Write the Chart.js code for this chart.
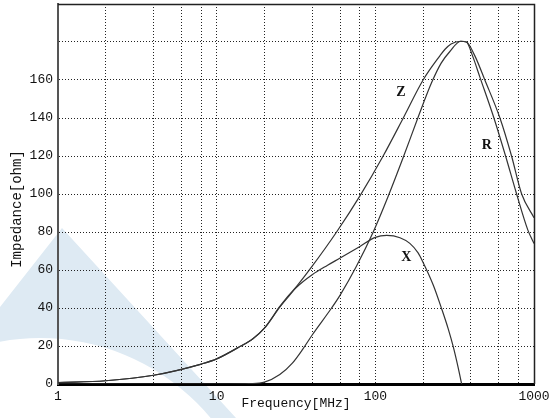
<!DOCTYPE html>
<html>
<head>
<meta charset="utf-8">
<script src="https://cdn.jsdelivr.net/npm/chart.js@4.4.0/dist/chart.umd.min.js"></script>
<style>
  html, body { margin: 0; padding: 0; background: #fff; }
</style>
</head>
<body>
<canvas id="impedanceChart" width="555" height="418"></canvas>
<script>
// Frequency in MHz, impedance in ohm
const zFreq = [1, 2, 4, 8, 10, 14, 17, 20, 25, 28, 32, 40, 57, 80, 112, 150, 200, 255, 275, 300, 345, 375, 424, 490, 610, 722, 836, 1000];
const zOhm  = [0.8, 1.7, 4.6, 10.5, 13.2, 19.7, 24, 29.4, 40.8, 46, 51.5, 62, 80, 99, 120, 140, 160, 172.7, 176.2, 179, 180.4, 180, 172.7, 160, 140, 120, 100, 87.5];

const rFreq = [1, 12, 16, 20, 25, 30, 35, 40, 53, 60, 76, 97, 120, 150, 187, 226, 260, 295, 345, 375, 410, 456, 559, 662, 777, 915, 1000];
const rOhm  = [0, 0, 0.2, 1, 5, 11, 18.5, 25.8, 40, 46.8, 62, 80, 98.4, 119.3, 140.9, 158.5, 168.9, 175, 180.4, 180, 172.7, 161.5, 140, 120, 100, 81, 74];

const xFreq = [1, 2, 4, 8, 10, 14, 17, 20, 25, 28, 32, 40, 50, 60, 80, 100, 118, 143, 165, 186, 200, 232, 262, 288, 310, 333, 350];
const xOhm  = [0.8, 1.7, 4.6, 10.5, 13.2, 19.7, 24, 29.4, 40.5, 45.5, 51, 57.5, 62.5, 66.3, 72.4, 77.2, 78.2, 77, 74, 69, 64, 52, 39.5, 29, 19.5, 8.5, 0];

const freqTicks = [1, 2, 4, 6, 8, 10, 20, 40, 60, 80, 100, 200, 400, 600, 800, 1000];
const freqLabels = [1, 10, 100, 1000];
const ohmTicks = [0, 20, 40, 60, 80, 100, 120, 140, 160, 180, 200];
const ohmLabels = [0, 20, 40, 60, 80, 100, 120, 140, 160];

// curve names, placed at (MHz, ohm)
const curveNames = ['Z', 'R', 'X'];
const nameFreq = [145, 505, 157];
const nameOhm = [153.5, 125.7, 66.5];

const monoFont = "'Liberation Mono', 'DejaVu Sans Mono', monospace";

function points(freq, ohm) {
    return freq.map((f, i) => ({ x: f, y: ohm[i] }));
}

// faint logo in the lower left corner
const backdrop = {
    id: 'backdrop',
    beforeDraw(chart) {
        const ctx = chart.ctx;
        ctx.save();
        ctx.fillStyle = '#fff';
        ctx.fillRect(0, 0, chart.width, chart.height);
        ctx.beginPath();
        ctx.moveTo(62, 228);
        ctx.lineTo(0, 307);
        ctx.lineTo(0, 418);
        ctx.lineTo(236, 418);
        ctx.closePath();
        ctx.moveTo(262, 560);
        ctx.arc(40, 560, 222, 0, Math.PI * 2);
        ctx.fillStyle = '#deeaf3';
        ctx.fill('evenodd');
        ctx.restore();
    }
};

// top and right edges of the plot frame, y title, curve names
const decorations = {
    id: 'decorations',
    afterDraw(chart) {
        const ctx = chart.ctx;
        const area = chart.chartArea;
        ctx.save();
        ctx.strokeStyle = '#222';
        ctx.lineWidth = 1.5;
        ctx.beginPath();
        ctx.moveTo(area.left, area.top + 0.5);
        ctx.lineTo(area.right + 0.5, area.top + 0.5);
        ctx.lineTo(area.right + 0.5, area.bottom);
        ctx.stroke();

        ctx.fillStyle = '#111';
        ctx.font = '14px ' + monoFont;
        ctx.textAlign = 'center';
        ctx.textBaseline = 'middle';
        ctx.translate(17, 209);
        ctx.rotate(-Math.PI / 2);
        ctx.fillText('Impedance[ohm]', 0, 0);
        ctx.restore();

        ctx.save();
        ctx.fillStyle = '#111';
        ctx.font = "bold 14px 'Liberation Serif', serif";
        ctx.textAlign = 'center';
        ctx.textBaseline = 'middle';
        curveNames.forEach((name, i) => {
            const px = chart.scales.x.getPixelForValue(nameFreq[i]);
            const py = chart.scales.y.getPixelForValue(nameOhm[i]);
            ctx.fillText(name, px, py);
        });
        ctx.restore();
    }
};

const lineStyle = {
    borderColor: '#333',
    borderWidth: 1.2,
    pointRadius: 0,
    fill: false,
    cubicInterpolationMode: 'monotone'
};

const ctx = document.getElementById('impedanceChart').getContext('2d');
const chart = new Chart(ctx, {
    type: 'line',
    data: {
        datasets: [
            Object.assign({ label: 'Z', data: points(zFreq, zOhm) }, lineStyle),
            Object.assign({ label: 'R', data: points(rFreq, rOhm) }, lineStyle),
            Object.assign({ label: 'X', data: points(xFreq, xOhm) }, lineStyle)
        ]
    },
    options: {
        responsive: false,
        devicePixelRatio: 1,
        animation: false,
        layout: { padding: { top: 4, right: 21, left: 0, bottom: 0 } },
        plugins: {
            legend: { display: false },
            tooltip: { enabled: false }
        },
        scales: {
            x: {
                type: 'logarithmic',
                min: 1,
                max: 1000,
                afterBuildTicks: (scale) => {
                    scale.ticks = freqTicks.map(v => ({ value: v }));
                },
                afterFit: (scale) => {
                    scale.height = 34;
                    scale.paddingLeft = 0;
                    scale.paddingRight = 0;
                },
                ticks: {
                    autoSkip: false,
                    maxRotation: 0,
                    padding: 5,
                    color: '#111',
                    font: { family: monoFont, size: 13 },
                    callback: (v) => freqLabels.includes(v) ? String(v) : ''
                },
                grid: { color: '#222', lineWidth: 1, drawTicks: false },
                border: { display: true, color: '#000', width: 3, dash: [1, 2] },
                title: {
                    display: true,
                    text: 'Frequency[MHz]',
                    color: '#111',
                    font: { family: monoFont, size: 13 },
                    padding: { top: 0, bottom: 7 }
                }
            },
            y: {
                type: 'linear',
                min: 0,
                max: 200,
                afterBuildTicks: (scale) => {
                    scale.ticks = ohmTicks.map(v => ({ value: v }));
                },
                afterFit: (scale) => {
                    scale.width = 58;
                    scale.paddingTop = 0;
                    scale.paddingBottom = 0;
                },
                ticks: {
                    autoSkip: false,
                    padding: 5,
                    color: '#111',
                    font: { family: monoFont, size: 13 },
                    callback: (v) => ohmLabels.includes(v) ? String(v) : ''
                },
                grid: { color: '#222', lineWidth: 1, drawTicks: false },
                border: { display: true, color: '#555', width: 2, dash: [1, 2] }
            }
        }
    },
    plugins: [backdrop, decorations]
});
</script>
</body>
</html>
